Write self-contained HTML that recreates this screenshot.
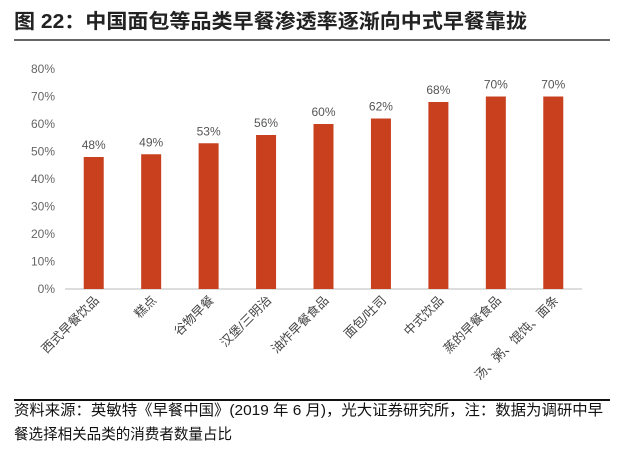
<!DOCTYPE html>
<html><head><meta charset="utf-8"><style>
body{margin:0;width:623px;height:454px;background:#fff;font-family:"Liberation Sans","Noto Sans CJK SC",sans-serif;overflow:hidden}
</style></head><body>
<svg width="623" height="454">
<text x="14" y="28" font-size="20" font-weight="bold" fill="#222" textLength="513" lengthAdjust="spacingAndGlyphs" font-family="Liberation Sans, Noto Sans CJK SC, sans-serif">图 22：中国面包等品类早餐渗透率逐渐向中式早餐靠拢</text>
<line x1="14" y1="40" x2="610" y2="40" stroke="#333" stroke-width="1.5"/>
<g id="plot"></g>
<line x1="14" y1="400" x2="610" y2="400" stroke="#111" stroke-width="2"/>
<text x="14" y="415" font-size="15" fill="#111" textLength="589" lengthAdjust="spacingAndGlyphs" font-family="Liberation Sans, Noto Sans CJK SC, sans-serif">资料来源：英敏特《早餐中国》(2019 年 6 月)，光大证券研究所，注：数据为调研中早</text>
<text x="14" y="439" font-size="15" fill="#111" textLength="218" lengthAdjust="spacingAndGlyphs" font-family="Liberation Sans, Noto Sans CJK SC, sans-serif">餐选择相关品类的消费者数量占比</text>
</svg>
<script>
const categories=["西式早餐饮品","糕点","谷物早餐","汉堡/三明治","油炸早餐食品","面包/吐司","中式饮品","蒸的早餐食品","汤、粥、馄饨、面条"];
const values=[48,49,53,56,60,62,68,70,70];
const tickValues=[0,10,20,30,40,50,60,70,80];
const NS="http://www.w3.org/2000/svg";
const g=document.getElementById('plot');
const x0=65,x1=582,yBase=289,yTop=69,maxV=80;
const band=(x1-x0)/categories.length;
const xc=i=>x0+band*(i+0.5);
const y=v=>yBase-(v/maxV)*(yBase-yTop);
function mk(t,a,txt){const e=document.createElementNS(NS,t);for(const k in a)e.setAttribute(k,a[k]);if(txt!==undefined)e.textContent=txt;g.appendChild(e);return e;}
tickValues.forEach(v=>{
 const t=mk('text',{x:x0-10,y:y(v)+4,'font-size':12,fill:'#666','text-anchor':'end'},v+'%');
 
 
});
const ax=mk('line',{x1:x0,y1:yBase,x2:x1,y2:yBase,stroke:'#bbb','stroke-width':1});


categories.forEach((c,i)=>{
 const b=mk('rect',{x:xc(i)-10,y:y(values[i]),width:20,height:yBase-y(values[i]),fill:'#C9401F'});
 
 
 const l=mk('text',{x:xc(i),y:y(values[i])-8,'font-size':12,fill:'#555','text-anchor':'middle'},values[i]+'%');
 
 
 const cx=xc(i)+6,cy=yBase+12;
 const cl=mk('text',{x:cx,y:cy,'font-size':12.5,fill:'#444','text-anchor':'end',transform:`rotate(-45 ${cx} ${cy})`},c);
 
 
});
</script>
</body></html>
